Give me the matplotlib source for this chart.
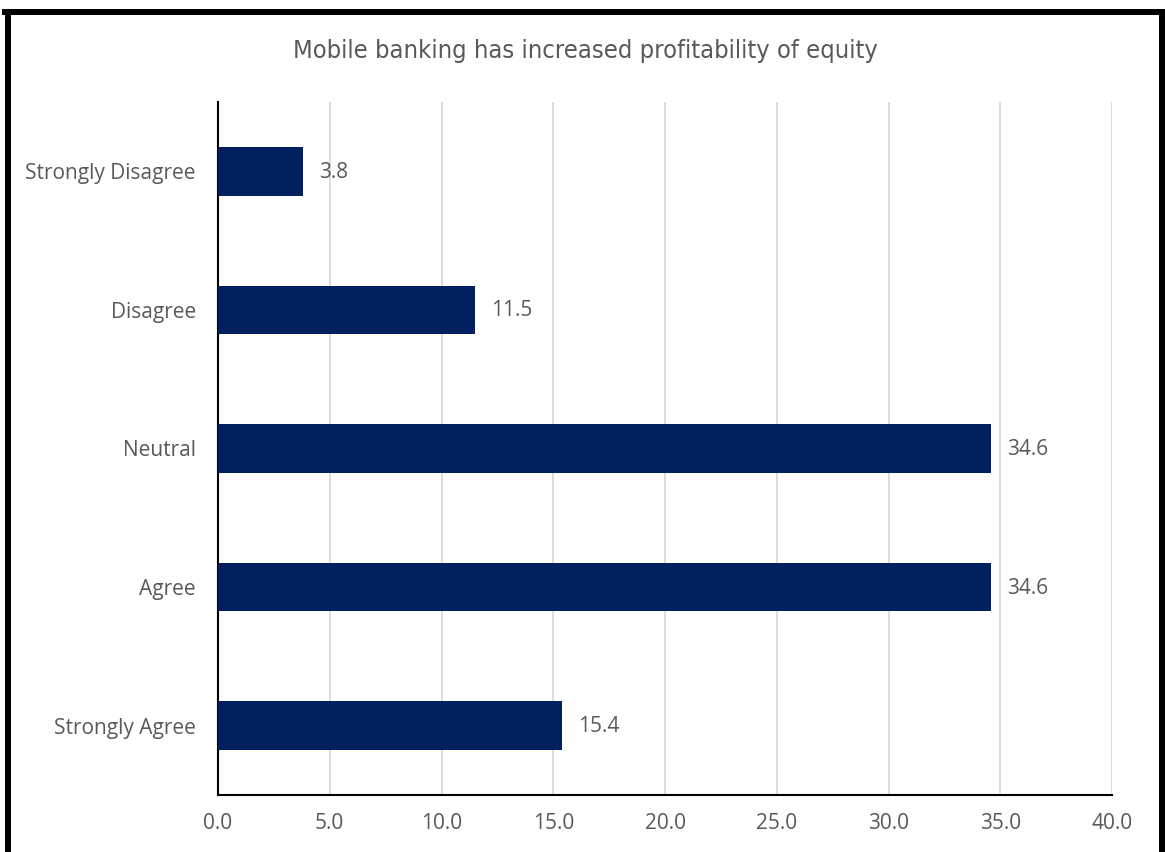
import matplotlib.pyplot as plt
from matplotlib.lines import Line2D

# Survey responses (percent)
categories = ['Strongly Disagree', 'Disagree', 'Neutral', 'Agree', 'Strongly Agree']
percentages = [3.8, 11.5, 34.6, 34.6, 15.4]
x_ticks = [0, 5, 10, 15, 20, 25, 30, 35, 40]

W, H = 1165, 852
fig = plt.figure(figsize=(W / 100, H / 100), dpi=100)
plt.rcParams['font.family'] = ['Open Sans', 'DejaVu Sans']

# axes placed in pixel coordinates
left, right, top, bottom = 218, 1112, 102, 795
ax = fig.add_axes([left / W, 1 - bottom / H, (right - left) / W, (bottom - top) / H])

text_color = '#595959'
bar_color = '#002060'

ax.barh(categories, percentages, height=0.35, color=bar_color, zorder=3)
ax.set_ylim(4.5, -0.5)
ax.set_xlim(0, 40)
ax.set_xticks(x_ticks)
ax.set_xticklabels(['{:.1f}'.format(t) for t in x_ticks])

for i, v in enumerate(percentages):
    ax.annotate('{:.1f}'.format(v), (v, i), xytext=(16, -1), textcoords='offset pixels',
                va='center', ha='left', fontsize=15, color=text_color)

ax.grid(axis='x', color='#D9D9D9', linewidth=1.3, zorder=0)
ax.set_axisbelow(True)
for side in ('top', 'right'):
    ax.spines[side].set_visible(False)
ax.spines['left'].set_linewidth(1.5)
ax.spines['bottom'].set_linewidth(1.5)
ax.tick_params(axis='both', length=0, labelsize=15, labelcolor=text_color)
ax.tick_params(axis='y', pad=16)
ax.tick_params(axis='x', pad=13)

fig.text(585 / W, 1 - 51 / H, 'Mobile banking has increased profitability of equity',
         ha='center', va='center', fontsize=18.3, color=text_color,
         family='DejaVu Sans', fontstretch='condensed')

# thick black frame around the chart (open at bottom)
lw = 6 * 72 / 100
def px(x, y):
    return x / W, 1 - y / H
for (x0, y0), (x1, y1) in [((8, 12), (8, 860)), ((5, 12), (1163, 12)), ((1162, 12), (1162, 860))]:
    a, b = px(x0, y0)
    c, d = px(x1, y1)
    fig.add_artist(Line2D([a, c], [b, d], color='black', linewidth=lw, solid_capstyle='projecting'))

fig.savefig('out.png', dpi=100, facecolor='white')
